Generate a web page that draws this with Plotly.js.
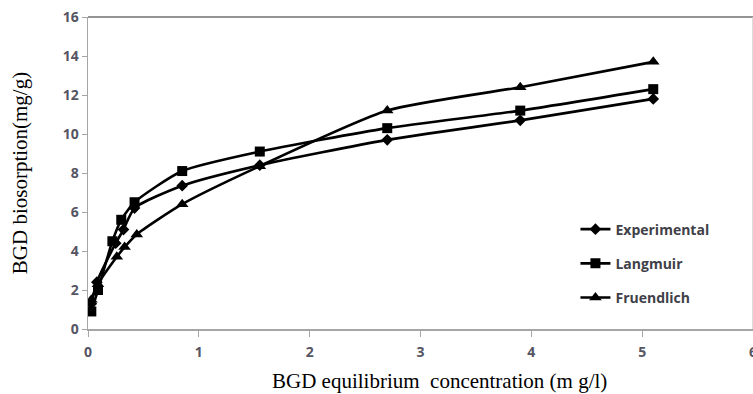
<!DOCTYPE html>
<html>
<head>
<meta charset="utf-8">
<script src="https://cdn.plot.ly/plotly-3.0.1.min.js"></script>
<style>html,body{margin:0;padding:0;background:#fff;}#chart{width:753px;height:394px;}</style>
</head>
<body>
<div id="chart"></div>
<script>
// Data
const seriesNames = ["Experimental", "Langmuir", "Fruendlich"];
const expX = [0.03, 0.08, 0.25, 0.32, 0.42, 0.85, 1.55, 2.7, 3.9, 5.1];
const expY = [1.3, 2.4, 4.4, 5.1, 6.2, 7.35, 8.4, 9.7, 10.7, 11.8];
const langX = [0.03, 0.09, 0.22, 0.3, 0.42, 0.85, 1.55, 2.7, 3.9, 5.1];
const langY = [0.9, 2.0, 4.5, 5.6, 6.5, 8.1, 9.1, 10.3, 11.2, 12.3];
const frX = [0.03, 0.09, 0.26, 0.33, 0.44, 0.85, 1.55, 2.7, 3.9, 5.1];
const frY = [1.5, 2.3, 3.7, 4.2, 4.85, 6.4, 8.35, 11.2, 12.4, 13.7];
const xTicks = [0, 1, 2, 3, 4, 5, 6];
const yTicks = [0, 2, 4, 6, 8, 10, 12, 14, 16];
const xTitle = "BGD equilibrium  concentration (m g/l)";
const yTitle = "BGD biosorption(mg/g)";

function tr(name, x, y, symbol, size, grp) {
  return {
    type: "scatter", mode: "lines+markers", name: name, x: x, y: y,
    legendgroup: grp,
    line: {color: "#000", width: 2.6, shape: "spline", smoothing: 0.6},
    marker: {symbol: symbol, size: size, color: "#000"}
  };
}
const data = [
  tr(seriesNames[0], expX, expY, "diamond", 9, "a"),
  tr(seriesNames[1], langX, langY, "square", 10, "b"),
  tr(seriesNames[2], frX, frY, "triangle-up", 11, "c")
];
const tickFont = {family: "Open Sans, Arial, sans-serif", size: 14, color: "#555563", weight: "bold"};
const titleFont = {family: "Liberation Serif, Times New Roman, serif", size: 21, color: "#000"};
const layout = {
  width: 753, height: 394,
  margin: {l: 88, r: 0, t: 17, b: 65},
  paper_bgcolor: "#fff", plot_bgcolor: "#fff",
  showlegend: true,
  legend: {
    x: 0.733, y: 0.37, xanchor: "left", yanchor: "top",
    traceorder: "grouped", tracegroupgap: 13,
    font: {family: "Open Sans, Arial, sans-serif", size: 14, color: "#404048", weight: "bold"},
    bgcolor: "rgba(0,0,0,0)"
  },
  xaxis: {
    range: [0, 6], tickvals: xTicks, ticktext: xTicks.map(String),
    showgrid: false, zeroline: false, showline: true, linecolor: "#a6a6a6", linewidth: 1.5,
    ticks: "outside", ticklen: 6, tickcolor: "#a6a6a6", tickfont: tickFont,
    ticklabelstandoff: 4, ticklabeloverflow: "allow"
  },
  yaxis: {
    range: [0, 16], tickvals: yTicks, ticktext: yTicks.map(String),
    showgrid: false, zeroline: false, showline: true, linecolor: "#a6a6a6", linewidth: 1.5,
    ticks: "outside", ticklen: 5, tickcolor: "#a6a6a6", tickfont: tickFont,
    title: {text: yTitle, font: titleFont, standoff: 29}
  },
  shapes: [
    {type: "line", xref: "paper", yref: "paper", x0: 0, x1: 1, y0: 1, y1: 1, line: {color: "#707070", width: 1.5}},
    {type: "line", xref: "paper", yref: "paper", x0: 1, x1: 1, y0: 0, y1: 1, line: {color: "#d0d0d0", width: 1.5}}
  ],
  annotations: [
    {text: xTitle, xref: "paper", yref: "paper", x: 0.529, y: 0, yshift: -52, xanchor: "center", yanchor: "middle",
     showarrow: false, font: titleFont}
  ]
};
Plotly.newPlot("chart", data, layout, {displayModeBar: false, staticPlot: true});
</script>
</body>
</html>
